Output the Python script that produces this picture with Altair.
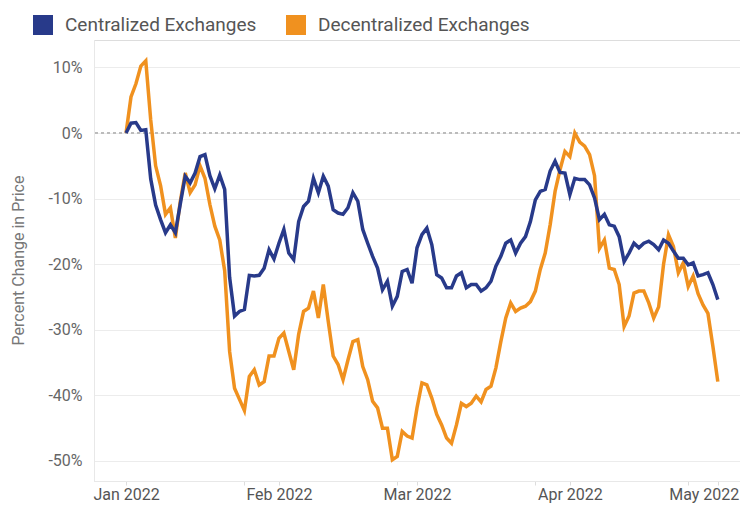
import altair as alt
import pandas as pd

start_date = "2022-01-01"
end_date = "2022-05-01"
series_names = ["Centralized Exchanges", "Decentralized Exchanges"]
series_colors = ["#283A8A", "#F0911F"]

centralized = [
    0.0, 1.5, 1.6, 0.4, 0.5, -7.0, -11.0, -13.2, -15.2, -14.0,
    -15.2, -10.8, -6.6, -7.6, -6.1, -3.6, -3.3, -6.5, -8.5, -6.4,
    -8.6, -22.0, -27.9, -27.2, -26.9, -21.7, -21.8, -21.7, -20.6, -17.8,
    -19.2, -16.8, -14.7, -18.3, -19.3, -13.5, -11.2, -10.4, -6.9, -9.1,
    -6.6, -8.1, -11.7, -12.2, -12.4, -11.4, -9.1, -10.4, -14.7, -16.8,
    -18.8, -20.6, -23.9, -22.6, -26.4, -24.9, -21.1, -20.8, -22.9, -17.5,
    -15.5, -14.5, -17.0, -21.6, -22.1, -23.6, -23.6, -21.8, -21.3, -23.6,
    -23.1, -23.1, -24.1, -23.6, -22.6, -20.3, -18.8, -16.8, -16.3, -18.3,
    -16.8, -15.8, -13.5, -10.2, -8.9, -8.6, -5.8, -4.3, -6.0, -6.1,
    -9.4, -6.9, -7.1, -7.1, -7.9, -9.9, -13.2, -12.4, -14.0, -14.2,
    -15.8, -19.6, -18.3, -16.8, -17.5, -16.8, -16.5, -17.0, -17.8, -16.3,
    -16.8, -18.0, -19.1, -19.1, -20.1, -19.8, -21.8, -21.6, -21.3, -23.1,
    -25.4,
]

decentralized = [
    0.0, 5.5, 7.5, 10.2, 11.0, 2.0, -5.0, -8.0, -12.4, -11.4,
    -16.0, -10.4, -6.1, -9.1, -7.9, -5.0, -6.9, -10.9, -14.2, -16.3,
    -21.0, -33.3, -38.9, -40.6, -42.3, -37.1, -36.1, -38.4, -37.9, -34.0,
    -34.0, -31.3, -30.5, -33.3, -36.1, -30.7, -27.2, -26.7, -24.1, -28.2,
    -23.1, -28.7, -34.0, -35.3, -37.6, -34.6, -31.8, -31.5, -35.6, -37.6,
    -40.9, -41.9, -45.0, -45.0, -49.8, -49.3, -45.5, -46.2, -46.5, -41.9,
    -38.1, -38.4, -40.4, -42.9, -44.5, -46.5, -47.3, -44.5, -41.2, -41.7,
    -41.2, -40.1, -41.0, -39.1, -38.6, -35.8, -31.8, -28.2, -25.9, -27.2,
    -26.7, -26.4, -25.7, -24.1, -20.8, -18.3, -14.0, -8.9, -5.6, -2.8,
    -3.6, 0.0, -1.4, -2.0, -3.3, -6.5, -17.6, -16.3, -20.6, -20.8,
    -23.1, -29.5, -27.9, -24.4, -24.1, -24.1, -25.9, -28.2, -26.5, -20.0,
    -15.5, -17.3, -21.3, -19.8, -23.4, -21.8, -24.5, -26.2, -27.5, -32.5,
    -37.9,
]

y_ticks = [-50, -40, -30, -20, -10, 0, 10]
x_tick_dates = [
    (2022, 1, 1), (2022, 1, 25), (2022, 2, 1), (2022, 2, 25), (2022, 3, 1),
    (2022, 3, 25), (2022, 4, 1), (2022, 4, 25), (2022, 5, 1),
]

dates = pd.date_range(start_date, end_date, freq="D")
df = pd.DataFrame({
    "date": list(dates) * 2,
    "value": centralized + decentralized,
    "series": [series_names[0]] * len(dates) + [series_names[1]] * len(dates),
})

color_scale = alt.Scale(domain=series_names, range=series_colors)
x_scale = alt.Scale(domain=[
    alt.DateTime(year=2021, month=12, date=25, hours=12),
    alt.DateTime(year=2022, month=5, date=5, hours=12),
])
y_scale = alt.Scale(domain=[-53.05, 14.18], nice=False, zero=False)

is_may = "month(datum.value) == 4"
x_enc = alt.X(
    "date:T", scale=x_scale, title=None,
    axis=alt.Axis(
        values=[alt.DateTime(year=y, month=m, date=d) for (y, m, d) in x_tick_dates],
        labelExpr="date(datum.value) == 1 ? timeFormat(datum.value, '%b %Y') : ''",
        grid=False, domain=True, domainColor="#e8e8e8", ticks=True,
        tickColor="#dddddd", tickSize=4, labelFontSize=16, labelColor="#555555",
        labelPadding=1, labelFont="Roboto",
        labelOffset={"condition": {"test": is_may, "value": -14}, "value": 0},
    ),
)
y_enc = alt.Y(
    "value:Q", scale=y_scale, title="Percent Change in Price",
    axis=alt.Axis(
        values=y_ticks, labelExpr="datum.value + '%'", grid=True,
        gridColor="#ececec", domain=True, domainColor="#e8e8e8", ticks=False,
        tickSize=0, labelPadding=12, labelFontSize=16, labelColor="#666666",
        labelFont="Roboto", titleFont="Roboto", titleFontSize=16,
        titleFontWeight="normal", titleColor="#777777", titleX=-76, titleY=220,
        titleAngle=-90, titleBaseline="middle", titleAlign="center",
    ),
)
color_enc = alt.Color(
    "series:N", scale=color_scale, title=None,
    legend=alt.Legend(
        orient="none", legendX=-61, legendY=-25, direction="horizontal",
        symbolType="square", symbolSize=100, symbolStrokeWidth=10,
        labelFontSize=19, labelColor="#555555", labelFont="Roboto",
        labelOffset=12, columnPadding=14, labelLimit=500,
    ),
)

zero_rule = alt.Chart(df).mark_rule(
    color="#bbbbbb", strokeDash=[3, 3], strokeWidth=1
).encode(y=alt.Y(datum=0))

line_dec = alt.Chart(df).transform_filter(
    alt.datum.series == series_names[1]
).mark_line(strokeWidth=3.5).encode(x=x_enc, y=y_enc, color=color_enc)

line_cen = alt.Chart(df).transform_filter(
    alt.datum.series == series_names[0]
).mark_line(strokeWidth=3.5).encode(x=x_enc, y=y_enc, color=color_enc)

chart = alt.layer(zero_rule, line_dec, line_cen).properties(
    width=646, height=441,
    autosize=alt.AutoSizeParams(type="none"),
    padding={"left": 86, "top": 32, "right": 0, "bottom": 22},
).configure_view(stroke=None).configure(font="Roboto")

chart.save("out.html", embed_options={"renderer": "svg", "actions": False})
